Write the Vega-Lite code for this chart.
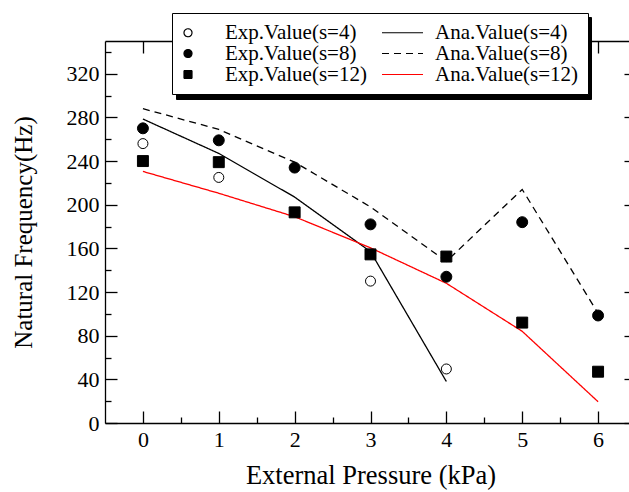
{
  "$schema": "https://vega.github.io/schema/vega-lite/v6.json",
  "width": 531,
  "height": 382,
  "autosize": {"type": "none"},
  "padding": {"left": 105, "top": 41, "right": -7, "bottom": 69},
  "background": "white",
  "config": {
    "font": "Liberation Serif",
    "view": {"stroke": null},
    "axis": {
      "grid": false,
      "domainColor": "black",
      "domainWidth": 1.3,
      "tickColor": "black",
      "tickWidth": 1.3,
      "labelColor": "black",
      "titleColor": "black",
      "labelFont": "Liberation Serif",
      "titleFont": "Liberation Serif",
      "labelFontSize": 22,
      "titleFontSize": 25,
      "titleFontWeight": "normal",
      "labelFlush": false,
      "labelOverlap": false
    },
    "legend": {
      "orient": "none",
      "legendX": 67,
      "legendY": -28,
      "columns": 2,
      "title": null,
      "fillColor": "white",
      "strokeColor": "black",
      "padding": 9,
      "labelFont": "Liberation Serif",
      "labelFontSize": 21,
      "labelColor": "black",
      "labelLimit": 400,
      "symbolSize": 64,
      "symbolStrokeWidth": 1.2,
      "rowPadding": -2,
      "columnPadding": 12,
      "symbolOffset": -3.5,
      "labelOffset": 26.5
    }
  },
  "datasets": {
    "exp": [
      {"p": 0, "f": 256, "series": "Exp.Value(s=4)"},
      {"p": 1, "f": 225, "series": "Exp.Value(s=4)"},
      {"p": 3, "f": 130, "series": "Exp.Value(s=4)"},
      {"p": 4, "f": 49.5, "series": "Exp.Value(s=4)"},
      {"p": 0, "f": 270, "series": "Exp.Value(s=8)"},
      {"p": 1, "f": 259, "series": "Exp.Value(s=8)"},
      {"p": 2, "f": 234, "series": "Exp.Value(s=8)"},
      {"p": 3, "f": 182, "series": "Exp.Value(s=8)"},
      {"p": 4, "f": 134, "series": "Exp.Value(s=8)"},
      {"p": 5, "f": 184, "series": "Exp.Value(s=8)"},
      {"p": 6, "f": 98.5, "series": "Exp.Value(s=8)"},
      {"p": 0, "f": 240, "series": "Exp.Value(s=12)"},
      {"p": 1, "f": 239, "series": "Exp.Value(s=12)"},
      {"p": 2, "f": 193, "series": "Exp.Value(s=12)"},
      {"p": 3, "f": 154.5, "series": "Exp.Value(s=12)"},
      {"p": 4, "f": 152.5, "series": "Exp.Value(s=12)"},
      {"p": 5, "f": 92, "series": "Exp.Value(s=12)"},
      {"p": 6, "f": 47, "series": "Exp.Value(s=12)"}
    ],
    "ana": [
      {"p": 0, "f": 278.5, "series": "Ana.Value(s=4)"},
      {"p": 1, "f": 247, "series": "Ana.Value(s=4)"},
      {"p": 2, "f": 207, "series": "Ana.Value(s=4)"},
      {"p": 3, "f": 157, "series": "Ana.Value(s=4)"},
      {"p": 4, "f": 38, "series": "Ana.Value(s=4)"},
      {"p": 0, "f": 288, "series": "Ana.Value(s=8)"},
      {"p": 1, "f": 269, "series": "Ana.Value(s=8)"},
      {"p": 2, "f": 239, "series": "Ana.Value(s=8)"},
      {"p": 3, "f": 198, "series": "Ana.Value(s=8)"},
      {"p": 4, "f": 148, "series": "Ana.Value(s=8)"},
      {"p": 5, "f": 214, "series": "Ana.Value(s=8)"},
      {"p": 6, "f": 100.5, "series": "Ana.Value(s=8)"},
      {"p": 0, "f": 230.5, "series": "Ana.Value(s=12)"},
      {"p": 1, "f": 210.5, "series": "Ana.Value(s=12)"},
      {"p": 2, "f": 189, "series": "Ana.Value(s=12)"},
      {"p": 3, "f": 160.5, "series": "Ana.Value(s=12)"},
      {"p": 4, "f": 128, "series": "Ana.Value(s=12)"},
      {"p": 5, "f": 84, "series": "Ana.Value(s=12)"},
      {"p": 6, "f": 19.5, "series": "Ana.Value(s=12)"}
    ]
  },
  "layer": [
    {
      "data": {"name": "ana"},
      "mark": {"type": "line", "strokeWidth": 1.3},
      "encoding": {
        "x": {
          "field": "p", "type": "quantitative",
          "scale": {"domain": [-0.5, 6.5], "nice": false, "zero": false},
          "axis": {"orient": "bottom", "values": [0, 1, 2, 3, 4, 5, 6], "format": "d", "tickSize": -12, "labelPadding": 18, "title": "External Pressure (kPa)", "titleFontSize": 26.5, "titlePadding": 12}
        },
        "y": {
          "field": "f", "type": "quantitative",
          "scale": {"domain": [0, 350], "nice": false},
          "axis": {"orient": "left", "values": [0, 40, 80, 120, 160, 200, 240, 280, 320], "tickSize": -12, "labelPadding": 18, "title": "Natural Frequency(Hz)", "titlePadding": 30}
        },
        "stroke": {
          "field": "series", "type": "nominal", "title": null,
          "scale": {"domain": ["Exp.Value(s=4)", "Exp.Value(s=8)", "Exp.Value(s=12)", "Ana.Value(s=4)", "Ana.Value(s=8)", "Ana.Value(s=12)"], "range": ["black", "black", "black", "black", "black", "red"]},
          "legend": {"zindex": 2}
        },
        "strokeDash": {
          "field": "series", "type": "nominal", "title": null,
          "scale": {"domain": ["Exp.Value(s=4)", "Exp.Value(s=8)", "Exp.Value(s=12)", "Ana.Value(s=4)", "Ana.Value(s=8)", "Ana.Value(s=12)"], "range": [[1, 0], [1, 0], [1, 0], [1, 0], [7, 5], [1, 0]]}
        },
        "opacity": {
          "field": "series", "type": "nominal", "title": null,
          "scale": {"type": "ordinal", "domain": ["Exp.Value(s=8)", "Exp.Value(s=4)", "Exp.Value(s=12)", "Ana.Value(s=8)", "Ana.Value(s=4)", "Ana.Value(s=12)"], "range": [1, 1, 1, 1, 1, 1]},
          "legend": {"legendX": 71, "legendY": -24, "fillColor": "black", "strokeColor": "black", "symbolType": "square", "symbolSize": 262, "symbolFillColor": "black", "symbolStrokeColor": "black", "labelExpr": "''", "labelFontSize": 1, "labelOffset": 0, "rowPadding": 0, "columnPadding": 360, "zindex": 1}
        }
      }
    },
    {
      "data": {"name": "exp"},
      "transform": [{"filter": "datum.series !== 'Exp.Value(s=4)'"}],
      "mark": {"type": "point", "size": 120, "strokeWidth": 1, "opacity": 1},
      "encoding": {
        "x": {
          "field": "p", "type": "quantitative",
          "scale": {"domain": [-0.5, 6.5], "nice": false, "zero": false},
          "axis": {"orient": "bottom", "values": [0.5, 1.5, 2.5, 3.5, 4.5, 5.5], "tickSize": -6, "labels": false, "domain": false, "title": null}
        },
        "y": {
          "field": "f", "type": "quantitative",
          "scale": {"domain": [0, 350], "nice": false},
          "axis": {"orient": "left", "values": [20, 60, 100, 140, 180, 220, 260, 300, 340], "tickSize": -6, "labels": false, "domain": false, "title": null}
        },
        "shape": {
          "field": "series", "type": "nominal", "title": null,
          "scale": {"domain": ["Exp.Value(s=4)", "Exp.Value(s=8)", "Exp.Value(s=12)", "Ana.Value(s=4)", "Ana.Value(s=8)", "Ana.Value(s=12)"], "range": ["circle", "circle", "square", "M-4,0H6.25", "M-4,0H6.25", "M-4,0H6.25"]}
        },
        "fill": {
          "field": "series", "type": "nominal", "title": null,
          "scale": {"domain": ["Exp.Value(s=4)", "Exp.Value(s=8)", "Exp.Value(s=12)", "Ana.Value(s=4)", "Ana.Value(s=8)", "Ana.Value(s=12)"], "range": ["white", "black", "black", "transparent", "transparent", "transparent"]}
        },
        "stroke": {
          "field": "series", "type": "nominal", "title": null,
          "scale": {"domain": ["Exp.Value(s=4)", "Exp.Value(s=8)", "Exp.Value(s=12)", "Ana.Value(s=4)", "Ana.Value(s=8)", "Ana.Value(s=12)"], "range": ["black", "black", "black", "black", "black", "red"]}
        }
      }
    },
    {
      "data": {"name": "exp"},
      "transform": [{"filter": "datum.series === 'Exp.Value(s=4)'"}],
      "mark": {"type": "point", "size": 100, "strokeWidth": 1, "opacity": 1},
      "encoding": {
        "x": {
          "field": "p", "type": "quantitative",
          "scale": {"domain": [-0.5, 6.5], "nice": false, "zero": false},
          "axis": {"orient": "top", "values": [0, 1, 2, 3, 4, 5, 6], "tickSize": -12, "labels": false, "title": null}
        },
        "y": {
          "field": "f", "type": "quantitative",
          "scale": {"domain": [0, 350], "nice": false},
          "axis": {"orient": "right", "values": [0, 40, 80, 120, 160, 200, 240, 280, 320], "tickSize": -12, "labels": false, "title": null}
        },
        "shape": {
          "field": "series", "type": "nominal", "title": null,
          "scale": {"domain": ["Exp.Value(s=4)", "Exp.Value(s=8)", "Exp.Value(s=12)", "Ana.Value(s=4)", "Ana.Value(s=8)", "Ana.Value(s=12)"], "range": ["circle", "circle", "square", "M-4,0H6.25", "M-4,0H6.25", "M-4,0H6.25"]}
        },
        "fill": {
          "field": "series", "type": "nominal", "title": null,
          "scale": {"domain": ["Exp.Value(s=4)", "Exp.Value(s=8)", "Exp.Value(s=12)", "Ana.Value(s=4)", "Ana.Value(s=8)", "Ana.Value(s=12)"], "range": ["white", "black", "black", "transparent", "transparent", "transparent"]}
        },
        "stroke": {
          "field": "series", "type": "nominal", "title": null,
          "scale": {"domain": ["Exp.Value(s=4)", "Exp.Value(s=8)", "Exp.Value(s=12)", "Ana.Value(s=4)", "Ana.Value(s=8)", "Ana.Value(s=12)"], "range": ["black", "black", "black", "black", "black", "red"]}
        }
      }
    }
  ],
  "resolve": {"axis": {"x": "independent", "y": "independent"}}
}
